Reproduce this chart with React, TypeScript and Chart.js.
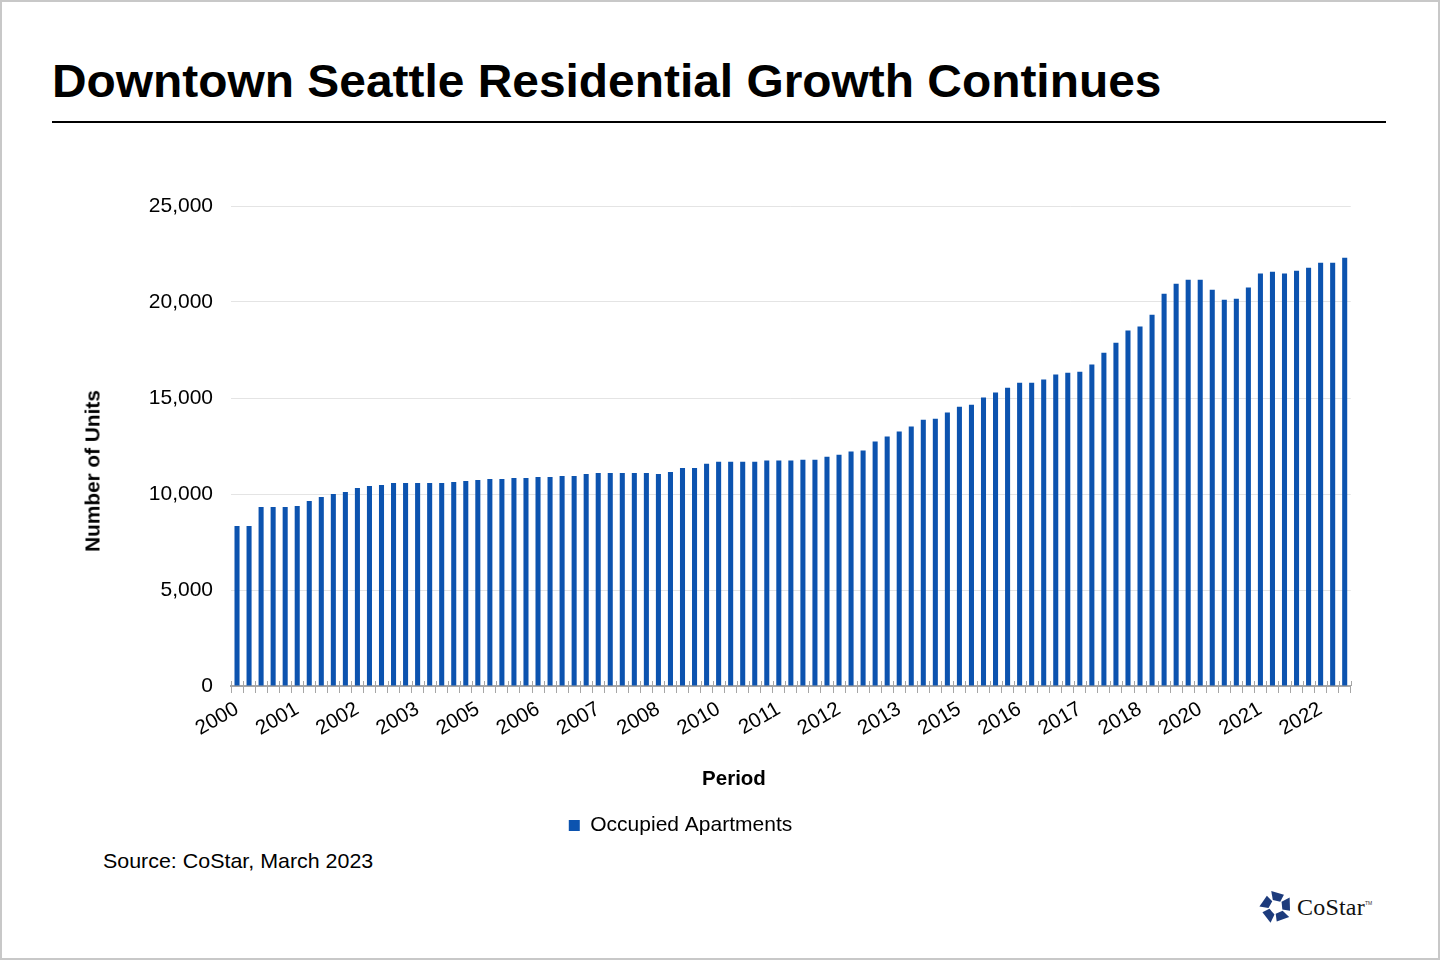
import React, { useEffect, useRef } from "react";
import { Chart, registerables } from "chart.js";

Chart.register(...registerables);

// ---------- data ----------
const YEARS = [
  2000, 2001, 2002, 2003, 2004, 2005, 2006, 2007, 2008, 2009, 2010, 2011,
  2012, 2013, 2014, 2015, 2016, 2017, 2018, 2019, 2020, 2021, 2022, 2023,
];
const QUARTERS = ["Q1", "Q2", "Q3", "Q4"];
const QUARTER_COUNT = 93; // 2000 Q1 .. 2023 Q1

const categories: string[] = [];
for (const y of YEARS) {
  for (const q of QUARTERS) {
    if (categories.length < QUARTER_COUNT) categories.push(`${y} ${q}`);
  }
}

const occupiedApartments = [
  8330, 8330, 9320, 9320, 9320, 9380, 9640, 9840, 10000, 10100,
  10310, 10420, 10470, 10570, 10570, 10570, 10570, 10570, 10620, 10680,
  10730, 10780, 10780, 10830, 10830, 10890, 10890, 10940, 10940, 11040,
  11090, 11090, 11090, 11090, 11090, 11040, 11150, 11350, 11350, 11570,
  11680, 11680, 11680, 11680, 11740, 11740, 11740, 11790, 11790, 11940,
  12050, 12210, 12260, 12730, 12990, 13250, 13510, 13870, 13920, 14240,
  14550, 14650, 15020, 15280, 15540, 15800, 15800, 15960, 16220, 16320,
  16370, 16740, 17360, 17880, 18510, 18720, 19340, 20430, 20950, 21160,
  21160, 20640, 20120, 20170, 20750, 21480, 21580, 21480, 21630, 21790,
  22050, 22050, 22310,
];

const Y_MIN = 0;
const Y_MAX = 25000;
const Y_STEP = 5000;
const X_LABEL_EVERY = 5;

const TITLE = "Downtown Seattle Residential Growth Continues";
const SERIES_LABEL = "Occupied Apartments";
const Y_TITLE = "Number of Units";
const X_TITLE = "Period";
const SOURCE = "Source: CoStar, March 2023";

// ---------- style ----------
const FONT = '"Liberation Sans", Arial, Helvetica, sans-serif';
const BAR_COLOR = "#0c53af";
const AXIS_GRAY = "#a6a6a6";
const GRID_GRAY = "#e4e4e4";

const crossTicks = {
  id: "crossTicks",
  afterDatasetsDraw(chart: any) {
    const xs = chart.scales.x;
    const { ctx, chartArea } = chart;
    const half = (xs.getPixelForValue(1) - xs.getPixelForValue(0)) / 2;
    ctx.save();
    ctx.strokeStyle = AXIS_GRAY;
    ctx.lineWidth = 1;
    for (let i = 0; i <= categories.length; i++) {
      const px = Math.round(xs.getPixelForValue(i) - half) + 0.5;
      ctx.beginPath();
      ctx.moveTo(px, chartArea.bottom - 5);
      ctx.lineTo(px, chartArea.bottom);
      ctx.stroke();
    }
    ctx.restore();
  },
};

function CoStarLogo() {
  const piece = "-4.5,-15 7.5,-11.5 4,-5 -3,-6.5";
  return (
    <div style={{ position: "absolute", left: 1258, top: 889, display: "flex", alignItems: "center" }}>
      <svg width={36} height={36} viewBox="-17 -17 34 34">
        {[0, 1, 2, 3, 4].map((k) => (
          <polygon key={k} points={piece} fill="#1d3b7c" transform={`rotate(${k * 72})`} />
        ))}
      </svg>
      <span
        style={{
          fontFamily: '"Liberation Serif", "DejaVu Serif", serif',
          fontSize: 24,
          color: "#111",
          marginLeft: 3,
          letterSpacing: 0.2,
        }}
      >
        CoStar
      </span>
      <span style={{ fontFamily: FONT, fontSize: 5, color: "#333", alignSelf: "flex-start", marginTop: 11 }}>TM</span>
    </div>
  );
}

export default function App() {
  const canvasRef = useRef<HTMLCanvasElement | null>(null);

  useEffect(() => {
    if (!canvasRef.current) return;
    Chart.defaults.font.family = FONT;
    const chart = new Chart(canvasRef.current, {
      type: "bar",
      data: {
        labels: categories,
        datasets: [
          {
            label: SERIES_LABEL,
            data: occupiedApartments,
            backgroundColor: BAR_COLOR,
            borderWidth: 0,
            categoryPercentage: 1,
            barPercentage: 0.42,
          },
        ],
      },
      options: {
        animation: false,
        responsive: true,
        maintainAspectRatio: false,
        layout: { padding: { top: 56, right: 0, left: 0, bottom: 0 } },
        plugins: {
          legend: {
            position: "bottom",
            labels: {
              boxWidth: 11,
              boxHeight: 11,
              color: "#000",
              padding: 10,
              font: { size: 21, family: FONT },
            },
          },
          tooltip: { enabled: false },
          title: { display: false },
        },
        scales: {
          x: {
            grid: {
              display: true,
              drawOnChartArea: false,
              drawTicks: true,
              tickLength: 7,
              color: AXIS_GRAY,
              lineWidth: 1,
              offset: true,
            },
            border: { display: true, color: AXIS_GRAY, width: 2 },
            ticks: {
              autoSkip: false,
              maxRotation: 30,
              minRotation: 30,
              padding: 4,
              color: "#000",
              font: { size: 20.5, family: FONT },
              callback: (_v: any, index: number) =>
                index % X_LABEL_EVERY === 0 ? categories[index].slice(0, 4) : "",
            },
            afterFit: (s: any) => {
              s.height = 119;
            },
          },
          y: {
            min: Y_MIN,
            max: Y_MAX,
            ticks: {
              stepSize: Y_STEP,
              padding: 18,
              color: "#000",
              font: { size: 21, family: FONT },
              callback: (v: any) => Number(v).toLocaleString("en-US"),
            },
            grid: {
              color: (c: any) => (c.tick && c.tick.value === 0 ? "rgba(0,0,0,0)" : GRID_GRAY),
              drawTicks: false,
              lineWidth: 1,
            },
            border: { display: false },
            afterFit: (s: any) => {
              s.width = 231;
            },
          },
        },
      } as any,
      plugins: [crossTicks],
    });
    return () => chart.destroy();
  }, []);

  return (
    <div
      style={{
        position: "absolute",
        left: 0,
        top: 0,
        width: 1440,
        height: 960,
        background: "#fff",
        boxShadow: "inset 0 0 0 2px #c8c8c8",
        fontFamily: FONT,
        overflow: "hidden",
        color: "#000",
      }}
    >
      <div
        style={{
          position: "absolute",
          left: 52,
          top: 58,
          fontSize: 46,
          lineHeight: "46px",
          fontWeight: "bold",
          whiteSpace: "nowrap",
          transform: "scaleX(1.041)",
          transformOrigin: "left center",
        }}
      >
        {TITLE}
      </div>
      <div style={{ position: "absolute", left: 52, top: 121, width: 1334, height: 2, background: "#000" }} />
      <div style={{ position: "absolute", left: 0, top: 150, width: 1361, height: 696 }}>
        <canvas ref={canvasRef} />
      </div>
      <div
        style={{
          position: "absolute",
          left: 92,
          top: 471,
          transform: "translate(-50%, -50%) rotate(-90deg)",
          fontSize: 20.8,
          fontWeight: "bold",
          whiteSpace: "nowrap",
          lineHeight: "21px",
        }}
      >
        {Y_TITLE}
      </div>
      <div
        style={{
          position: "absolute",
          left: 734,
          top: 777,
          transform: "translate(-50%, -50%)",
          fontSize: 20.5,
          fontWeight: "bold",
          whiteSpace: "nowrap",
          lineHeight: "21px",
        }}
      >
        {X_TITLE}
      </div>
      <div
        style={{
          position: "absolute",
          left: 103,
          top: 851,
          fontSize: 21,
          lineHeight: "20px",
          whiteSpace: "nowrap",
          transform: "scaleX(1.02)",
          transformOrigin: "left center",
        }}
      >
        {SOURCE}
      </div>
      <CoStarLogo />
    </div>
  );
}
